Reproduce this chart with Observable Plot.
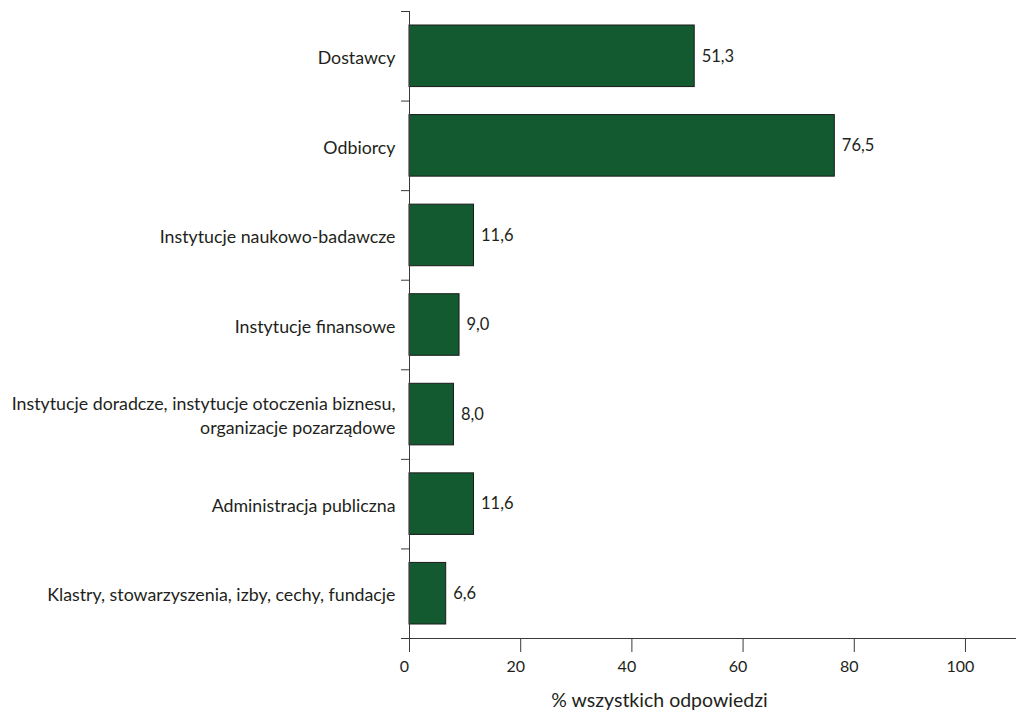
<!DOCTYPE html>
<html>
<head>
<meta charset="utf-8">
<script src="https://cdn.jsdelivr.net/npm/d3@7"></script>
<script src="https://cdn.jsdelivr.net/npm/@observablehq/plot@0.6"></script>
<style>
  html, body { margin: 0; padding: 0; background: #fff; }
  #chart svg { display: block; }
</style>
</head>
<body>
<div id="chart"></div>
<script>
const categories = [
  "Dostawcy",
  "Odbiorcy",
  "Instytucje naukowo-badawcze",
  "Instytucje finansowe",
  "Instytucje doradcze, instytucje otoczenia biznesu,\norganizacje pozarządowe",
  "Administracja publiczna",
  "Klastry, stowarzyszenia, izby, cechy, fundacje"
];
const values = [51.3, 76.5, 11.6, 9.0, 8.0, 11.6, 6.6];
const xTicks = [0, 20, 40, 60, 80, 100];
const axisTitle = "% wszystkich odpowiedzi";

const data = categories.map((c, i) => ({category: c, value: values[i]}));
const fmt = v => v.toFixed(1).replace(".", ",");

const W = 1016, H = 713;
const mTop = 11, mBottom = 75, mLeft = 409, mRight = 1;
const bandH = (H - mTop - mBottom) / categories.length;
const lineColor = "#3a3a3a";
const textColor = "#231f20";

const chart = Plot.plot({
  width: W,
  height: H,
  marginTop: mTop,
  marginBottom: mBottom,
  marginLeft: mLeft,
  marginRight: mRight,
  style: {fontFamily: "Lato, sans-serif", fontSize: "17px", color: textColor, background: "#fff"},
  x: {domain: [0, 109]},
  y: {domain: categories, padding: 0, round: false},
  marks: [
    Plot.barX(data, {x: "value", y: "category", fill: "#135a31", stroke: "#1a1a1a", strokeWidth: 1, insetTop: 14, insetBottom: 14}),
    Plot.text(data, {x: "value", y: "category", text: d => fmt(d.value), textAnchor: "start", dx: 7, fontSize: 16.5, fill: textColor}),
    // category labels
    Plot.axisY({tickSize: 0, tickPadding: 14, fontSize: 17.8, lineHeight: 1.35, fill: textColor, label: null}),
    // ticks at band boundaries
    Plot.axisY({tickSize: 8, dy: -bandH / 2, text: null, stroke: lineColor, label: null}),
    Plot.axisY([categories[categories.length - 1]], {tickSize: 8, dy: bandH / 2, text: null, stroke: lineColor, label: null}),
    Plot.axisX(xTicks, {tickSize: 14, text: null, stroke: lineColor, label: null}),
    Plot.axisX(xTicks, {tickSize: 0, tickPadding: 22, dx: -5, fontSize: 16, fill: textColor, label: null}),
    Plot.frame({anchor: "left", stroke: lineColor}),
    Plot.frame({anchor: "bottom", stroke: lineColor}),
    Plot.text([axisTitle], {frameAnchor: "bottom", dx: -53, dy: 68, fontSize: 19.5, fill: textColor})
  ]
});
document.getElementById("chart").appendChild(chart);
</script>
</body>
</html>
